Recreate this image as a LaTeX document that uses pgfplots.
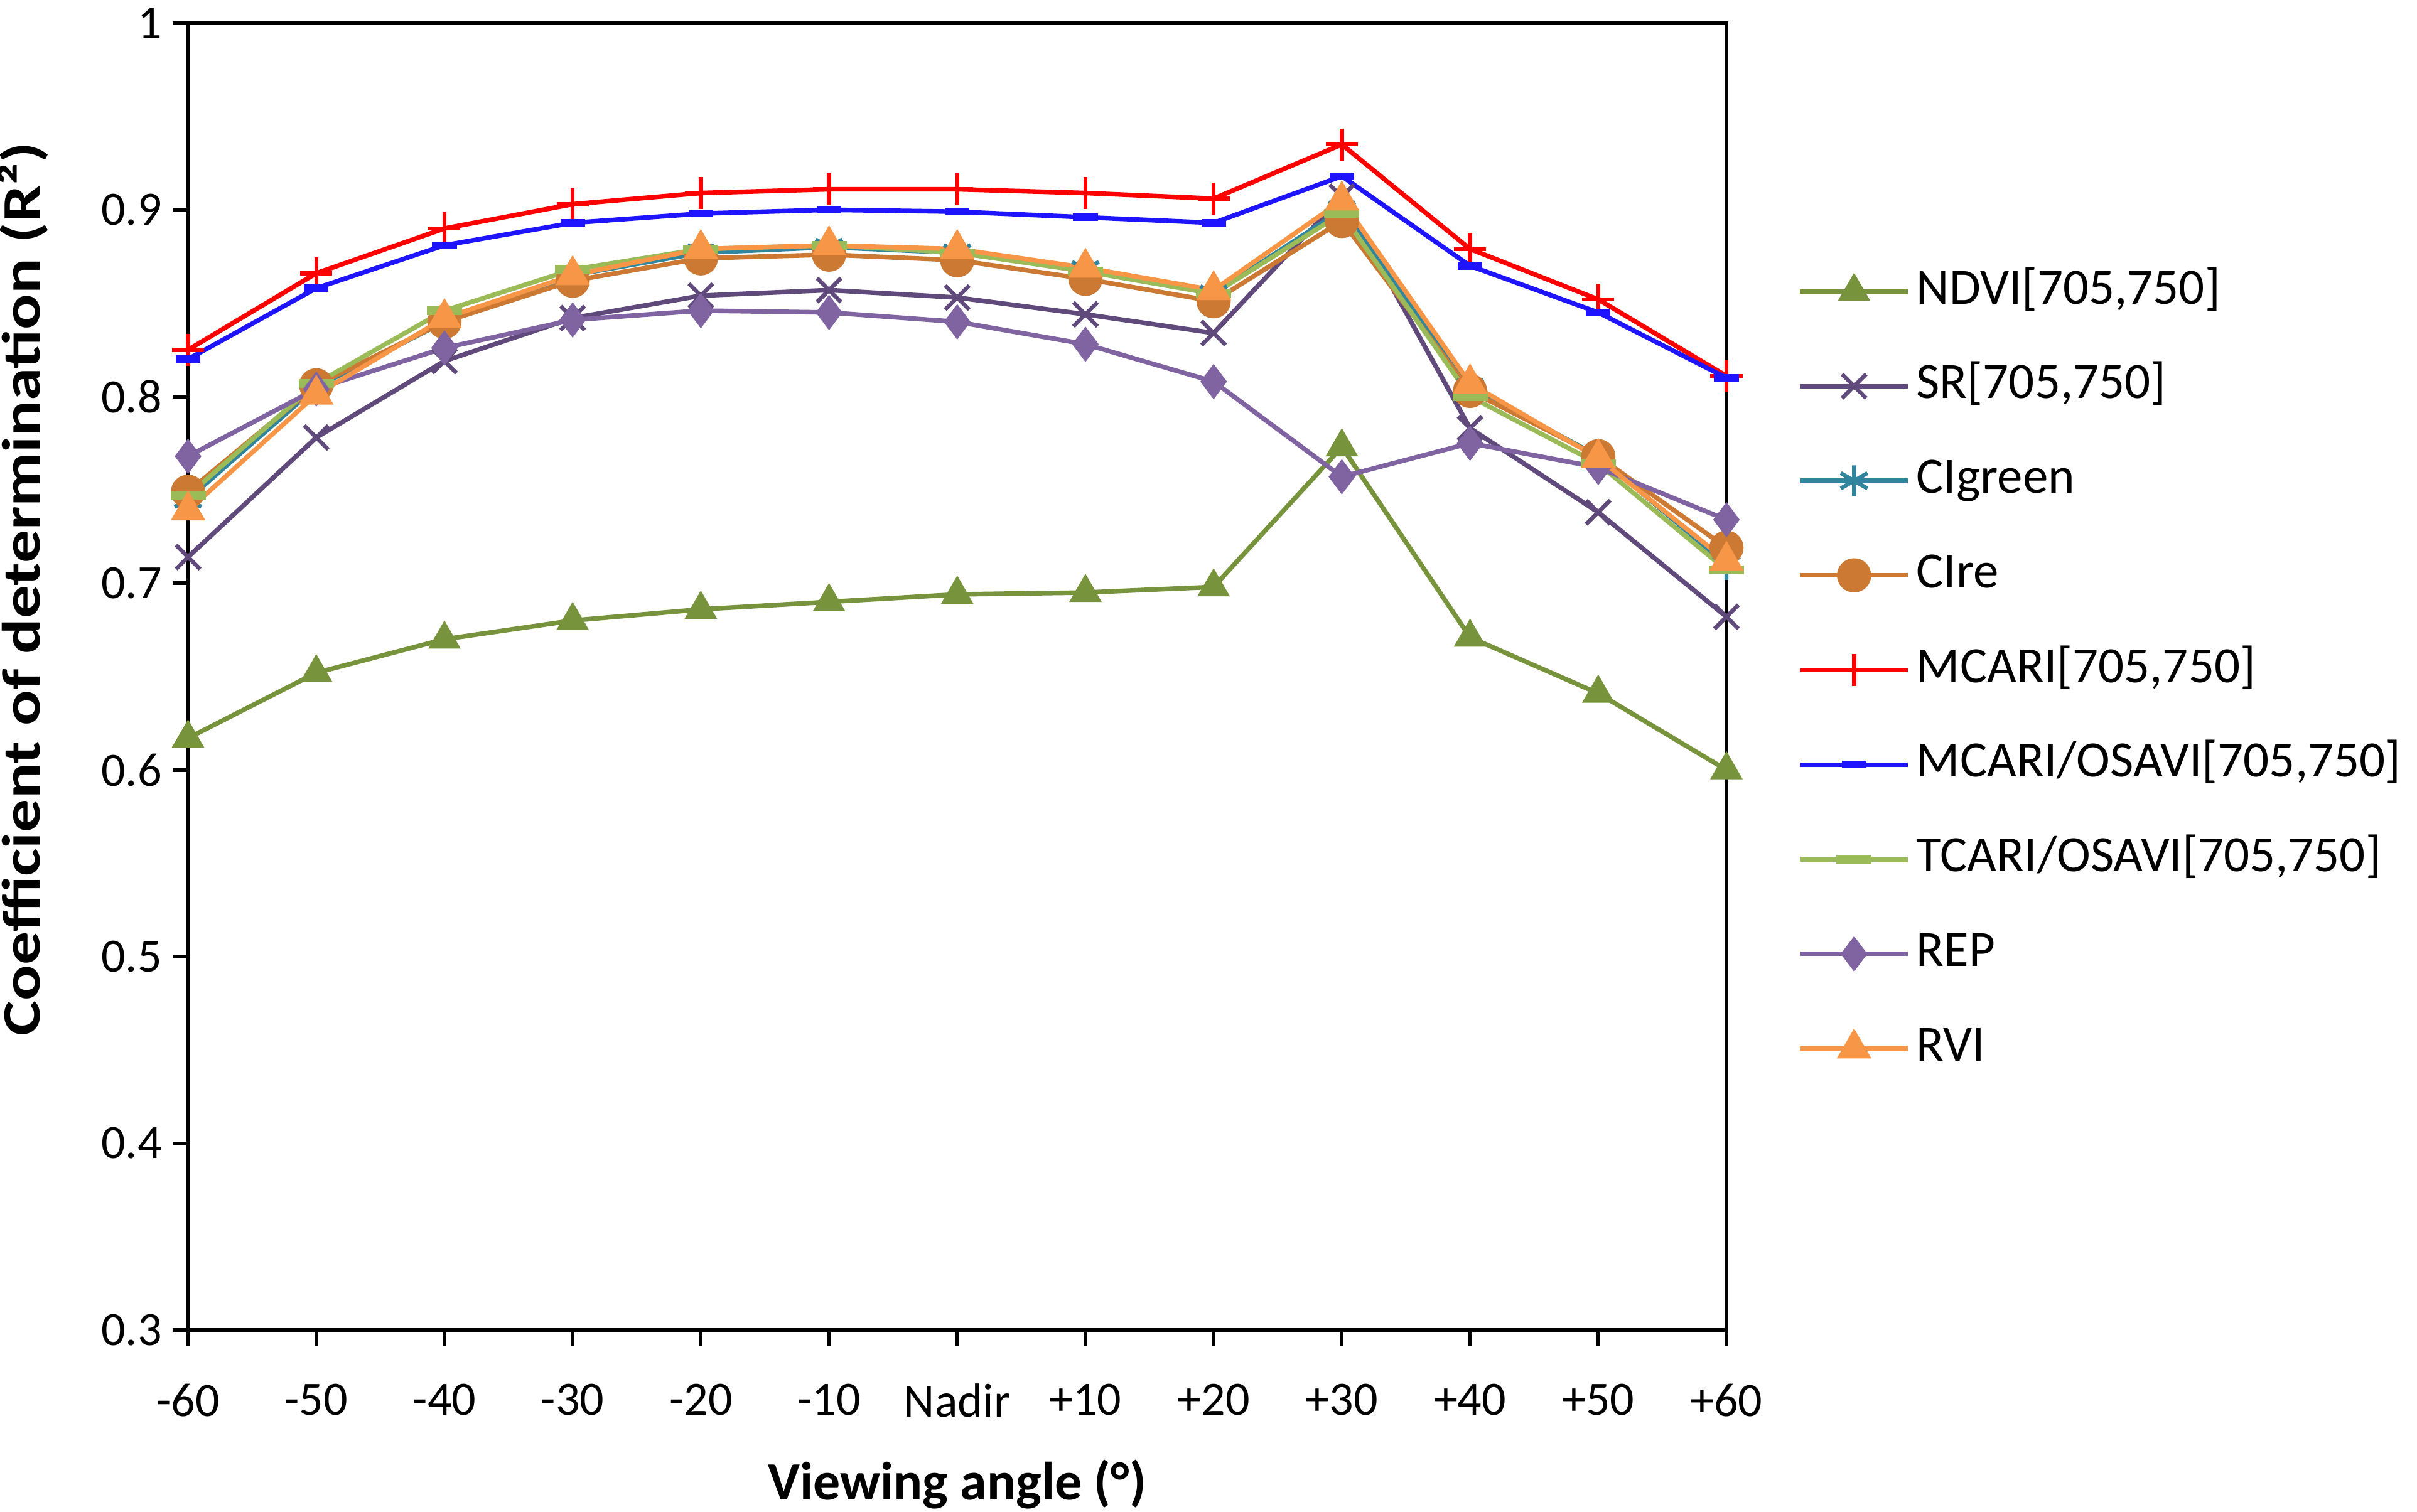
\documentclass[border=0pt]{standalone}
\usepackage{fontspec}
\setmainfont{Carlito}
\usepackage{pgfplots}
\usepackage{pgfplotstable}
\pgfplotsset{compat=1.18}

\definecolor{cndvi}{RGB}{119,147,60}
\definecolor{csr}{RGB}{96,74,123}
\definecolor{ccig}{RGB}{49,133,156}
\definecolor{ccire}{RGB}{204,122,51}
\definecolor{cmcari}{RGB}{255,0,0}
\definecolor{cmco}{RGB}{30,20,255}
\definecolor{ctco}{RGB}{155,187,89}
\definecolor{crep}{RGB}{128,100,162}
\definecolor{crvi}{RGB}{247,150,70}

\pgfplotstableread{
x NDVI SR CIg CIre MCARI MCO TCO REP RVI
0 0.617 0.714 0.745 0.749 0.825 0.820 0.747 0.768 0.739
1 0.652 0.778 0.805 0.806 0.866 0.858 0.807 0.804 0.801
2 0.670 0.819 0.840 0.840 0.890 0.881 0.846 0.826 0.842
3 0.680 0.842 0.865 0.862 0.903 0.893 0.868 0.841 0.865
4 0.686 0.854 0.877 0.874 0.909 0.898 0.879 0.846 0.879
5 0.690 0.857 0.880 0.876 0.911 0.900 0.881 0.845 0.881
6 0.694 0.853 0.877 0.873 0.911 0.899 0.877 0.840 0.879
7 0.695 0.844 0.868 0.863 0.909 0.896 0.867 0.828 0.869
8 0.698 0.834 0.855 0.851 0.906 0.893 0.855 0.808 0.857
9 0.773 0.907 0.900 0.894 0.935 0.918 0.898 0.757 0.905
10 0.671 0.783 0.805 0.803 0.879 0.870 0.800 0.775 0.807
11 0.641 0.738 0.768 0.768 0.852 0.845 0.764 0.762 0.767
12 0.600 0.682 0.710 0.719 0.811 0.810 0.707 0.734 0.712
}\data

\begin{document}
\begin{tikzpicture}
\begin{axis}[
  name=ax,
  scale only axis,
  width=499pt, height=424pt,
  xmin=0, xmax=12, ymin=0.3, ymax=1,
  xtick={0,...,12},
  xticklabels={-60,-50,-40,-30,-20,-10,Nadir,+10,+20,+30,+40,+50,+60},
  ytick={0.3,0.4,0.5,0.6,0.7,0.8,0.9,1},
  yticklabels={0.3,0.4,0.5,0.6,0.7,0.8,0.9,1},
  tick align=outside,
  major tick length=5pt,
  xtick pos=bottom, ytick pos=left,
  axis line style={line width=1.2pt},
  every tick/.style={black, line width=1.2pt},
  tick label style={font=\fontsize{15.5}{18}\selectfont},
  yticklabel style={anchor=east},
  xticklabel style={yshift=-9pt},
  every axis x label/.style={at={(axis description cs:0.5,0)}, yshift=-50pt, anchor=center},
  every axis y label/.style={at={(axis description cs:0,0.567)}, xshift=-53.5pt, rotate=90, xscale=1.23, anchor=center},
  label style={font=\fontsize{17.5}{20}\selectfont\bfseries},
  xlabel={Viewing angle (°)},
  ylabel={Coefficient of determination (R²)},
  legend cell align=left,
  legend style={at={(1.04,0.505)}, anchor=west, draw=none, fill=none,
    font=\fontsize{16.5}{19}\selectfont, row sep=10.7pt,
    nodes={text height=12pt, text depth=4pt, inner sep=2pt}},
  legend image code/.code={\draw[mark repeat=2,mark phase=2] plot coordinates {(0pt,0pt) (17.5pt,0pt) (35pt,0pt)};},
  every axis plot/.append style={line width=1.5pt},
]
\addplot[cndvi, mark=triangle*, mark size=4.6pt, mark options={solid}] table[x=x,y=NDVI]{\data};
\addlegendentry{NDVI[705,750]}
\addplot[csr, mark=x, mark size=5.5pt, mark options={line width=1.3pt}] table[x=x,y=SR]{\data};
\addlegendentry{SR[705,750]}
\addplot[ccig, mark=asterisk, mark size=5pt, mark options={line width=1.3pt}] table[x=x,y=CIg]{\data};
\addlegendentry{CIgreen}
\addplot[ccire, mark=*, mark size=4.8pt] table[x=x,y=CIre]{\data};
\addlegendentry{CIre}
\addplot[cmcari, mark=+, mark size=5.2pt, mark options={line width=1.3pt}] table[x=x,y=MCARI]{\data};
\addlegendentry{MCARI[705,750]}
\addplot[cmco, mark=-, mark size=4pt, mark options={line width=2.5pt}] table[x=x,y=MCO]{\data};
\addlegendentry{MCARI/OSAVI[705,750]}
\addplot[ctco, mark=-, mark size=5.7pt, mark options={line width=2.9pt}] table[x=x,y=TCO]{\data};
\addlegendentry{TCARI/OSAVI[705,750]}
\addplot[crep, mark=diamond*, mark size=4.5pt] table[x=x,y=REP]{\data};
\addlegendentry{REP}
\addplot[crvi, mark=triangle*, mark size=5pt] table[x=x,y=RVI]{\data};
\addlegendentry{RVI}
\end{axis}
\pgfresetboundingbox
\path ([shift={(-61pt,-59pt)}]ax.south west) rectangle ++(784pt,490.5pt);
\end{tikzpicture}
\end{document}
